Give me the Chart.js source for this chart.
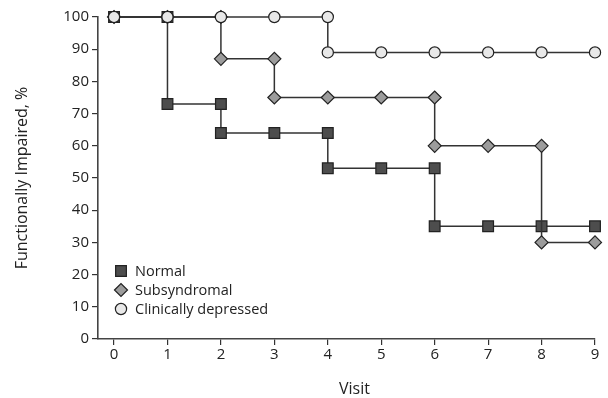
<!DOCTYPE html>
<html>
<head>
<meta charset="utf-8">
<script src="https://cdn.jsdelivr.net/npm/chart.js@4/dist/chart.umd.min.js"></script>
<style>
  html, body { margin: 0; padding: 0; background: #fff; }
  #wrap { width: 608px; height: 398px; position: relative; }
</style>
</head>
<body>
<div id="wrap"><canvas id="c" width="608" height="398"></canvas></div>
<script>
// ---- data ----
const seriesNames = ["Normal", "Subsyndromal", "Clinically depressed"];

const normalVisit = [0, 1, 1, 2, 2, 3, 4, 4, 5, 6, 6, 7, 8, 9];
const normalPct   = [100, 100, 73, 73, 64, 64, 64, 53, 53, 53, 35, 35, 35, 35];

const subsynVisit = [0, 1, 2, 2, 3, 3, 4, 5, 6, 6, 7, 8, 8, 9];
const subsynPct   = [100, 100, 100, 87, 87, 75, 75, 75, 75, 60, 60, 60, 30, 30];

const depressedVisit = [0, 1, 2, 3, 4, 4, 5, 6, 7, 8, 9];
const depressedPct   = [100, 100, 100, 100, 100, 89, 89, 89, 89, 89, 89];

const xTickValues = [0, 1, 2, 3, 4, 5, 6, 7, 8, 9];
const yTickValues = [0, 10, 20, 30, 40, 50, 60, 70, 80, 90, 100];

const xTitle = "Visit";
const yTitle = "Functionally Impaired, %";

// ---- chart ----
const FONT = "'Open Sans', 'DejaVu Sans', sans-serif";
const pts = (xs, ys) => xs.map((x, i) => ({ x: x, y: ys[i] }));

const legendPlugin = {
  id: 'insideLegend',
  afterDatasetsDraw(chart) {
    const ctx = chart.ctx;
    const ca = chart.chartArea;
    const x0 = ca.left + 23;
    const y0 = ca.bottom - 68;
    const rowH = 19;
    ctx.save();
    chart.data.datasets.forEach((ds, i) => {
      const y = y0 + i * rowH;
      ctx.fillStyle = ds.pointBackgroundColor;
      ctx.strokeStyle = ds.pointBorderColor;
      ctx.lineWidth = ds.pointBorderWidth;
      Chart.helpers.drawPoint(ctx, {
        pointStyle: ds.pointStyle,
        radius: ds.pointRadius,
        rotation: 0,
        borderWidth: ds.pointBorderWidth
      }, x0, y);
      ctx.fillStyle = '#222';
      ctx.font = '14.5px ' + FONT;
      ctx.textBaseline = 'middle';
      ctx.textAlign = 'left';
      ctx.fillText(ds.label, x0 + 14, y + 1);
    });
    ctx.restore();
  }
};

// x-axis title centred on the tick range
const xTitlePlugin = {
  id: 'xTitle',
  afterDraw(chart) {
    const s = chart.scales.x;
    const mid = (xTickValues[0] + xTickValues[xTickValues.length - 1]) / 2;
    const ctx = chart.ctx;
    ctx.save();
    ctx.fillStyle = '#222';
    ctx.font = '16px ' + FONT;
    ctx.textAlign = 'center';
    ctx.textBaseline = 'alphabetic';
    ctx.fillText(xTitle, s.getPixelForValue(mid), 394);
    ctx.restore();
  }
};

new Chart(document.getElementById('c'), {
  type: 'line',
  data: {
    datasets: [
      {
        label: seriesNames[0],
        data: pts(normalVisit, normalPct),
        borderColor: '#333',
        borderWidth: 1.5,
        pointStyle: 'rect',
        pointRadius: 7.6,
        pointBackgroundColor: '#4d4d4d',
        pointBorderColor: '#222',
        pointBorderWidth: 1.2,
        clip: false,
        order: 2
      },
      {
        label: seriesNames[1],
        data: pts(subsynVisit, subsynPct),
        borderColor: '#333',
        borderWidth: 1.5,
        pointStyle: 'rectRot',
        pointRadius: 6.5,
        pointBackgroundColor: '#9c9c9c',
        pointBorderColor: '#222',
        pointBorderWidth: 1.2,
        clip: false,
        order: 1
      },
      {
        label: seriesNames[2],
        data: pts(depressedVisit, depressedPct),
        borderColor: '#333',
        borderWidth: 1.5,
        pointStyle: 'circle',
        pointRadius: 5.6,
        pointBackgroundColor: '#e8e8e8',
        pointBorderColor: '#222',
        pointBorderWidth: 1.2,
        clip: false,
        order: 0
      }
    ]
  },
  options: {
    responsive: false,
    animation: false,
    events: [],
    layout: { padding: { left: 0, right: 13, top: 17, bottom: 0 } },
    plugins: {
      legend: { display: false },
      tooltip: { enabled: false }
    },
    scales: {
      x: {
        type: 'linear',
        min: -0.3,
        max: 9,
        afterBuildTicks: (s) => { s.ticks = xTickValues.map(v => ({ value: v })); },
        afterFit: (s) => { s.height = 59; },
        grid: { drawOnChartArea: false, drawTicks: true, tickLength: 6, color: '#333', lineWidth: 1.2 },
        border: { display: true, color: '#444', width: 1.6 },
        ticks: { color: '#222', font: { family: FONT, size: 15 }, padding: 1, maxRotation: 0 },
        title: { display: false }
      },
      y: {
        type: 'linear',
        min: 0,
        max: 100,
        afterBuildTicks: (s) => { s.ticks = yTickValues.map(v => ({ value: v })); },
        afterFit: (s) => { s.width = 98; },
        grid: { drawOnChartArea: false, drawTicks: true, tickLength: 6, color: '#333', lineWidth: 1.2 },
        border: { display: true, color: '#444', width: 1.6 },
        ticks: { color: '#222', font: { family: FONT, size: 15 }, padding: 3 },
        title: { display: true, text: yTitle, color: '#222', font: { family: FONT, size: 16 }, padding: { top: 13, bottom: 0 } }
      }
    }
  },
  plugins: [legendPlugin, xTitlePlugin]
});
</script>
</body>
</html>
